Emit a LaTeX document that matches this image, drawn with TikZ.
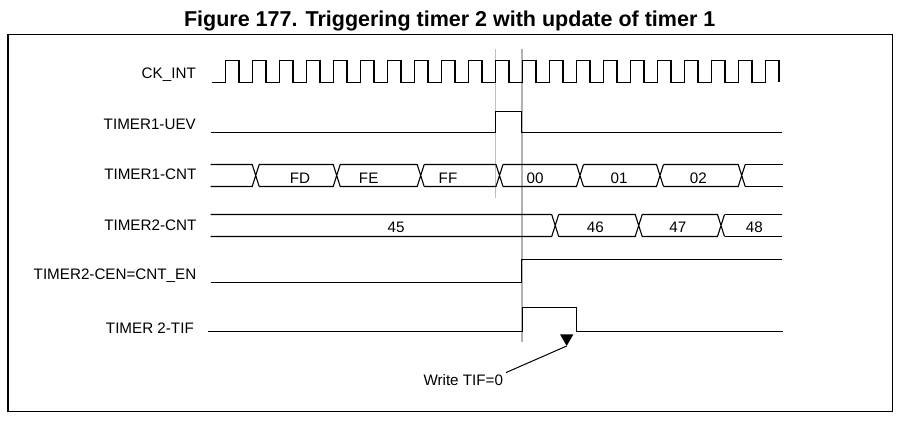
\documentclass[tikz,border=0pt]{standalone}
\usepackage{fontspec}
\setmainfont{Liberation Sans}

\begin{document}
\begin{tikzpicture}[x=1pt,y=-1pt,
    sig/.style = {black,line width=1.1pt},
    lbl/.style = {anchor=base east,inner sep=0pt,font=\fontsize{15.2}{17}\selectfont},
    val/.style = {anchor=base,inner sep=0pt,font=\fontsize{15.2}{17}\selectfont},
    guide/.style = {color=black!25,line width=1pt}]
\useasboundingbox (0,0) rectangle (916,430);
\node[anchor=base,inner sep=0pt,font=\bfseries\fontsize{21.5}{24}\selectfont] (title) at (449.7,26.7) {Figure 177. Triggering timer 2 with update of timer 1};
\draw[line width=1.2pt] (8,34.5) rectangle (892.5,411.5);
\node[lbl] (ck) at (196,78.8) {CK\_INT};
\node[lbl] (uev) at (196,129.3) {TIMER1-UEV};
\node[lbl] (cnta) at (196.5,180) {TIMER1-CNT};
\node[lbl] (cntb) at (196.5,231) {TIMER2-CNT};
\node[lbl] (cen) at (196.5,279.5) {TIMER2-CEN=CNT\_EN};
\node[lbl] (tif) at (194,333.3) {TIMER 2-TIF};
\draw[guide] (495.7,49) -- (495.7,197.7);
\draw[guide,color=black!30,line width=2pt] (521.7,49) -- (521.7,342);
\draw[sig] (211.7,82.5) \foreach \k in {0,...,20} { -- ({225.5+27*\k},82.5) -- ++(0,-22) -- ++(13.5,0) -- ++(0,22) };
\draw[sig] (211,132.5) -- (495.7,132.5) -- (495.7,111.5) -- (521.7,111.5) -- (521.7,132.5) -- (782,132.5);
\foreach \t [remember=\t as \p (initially 207.2)] in {255.7,336.7,420.7,499.5,580,660,741.7}
    \draw[sig] ({\p+3.5},164.5) -- ({\t-3.5},164.5) -- ({\t+3.5},186.5) ({\p+3.5},186.5) -- ({\t-3.5},186.5) -- ({\t+3.5},164.5);
\draw[sig] (745.2,164.5) -- (782.5,164.5) (745.2,186.5) -- (782.5,186.5);
\foreach \v/\x [count=\j from 0] in {FD/300, FE/368.7, FF/448, 00/535, 01/619, 02/698.3}
    \node[val] (a\j) at (\x,183.3) {\v};
\foreach \t [remember=\t as \p (initially 207)] in {555.2,638.7,721}
    \draw[sig] ({\p+3.5},214.5) -- ({\t-3.5},214.5) -- ({\t+3.5},236.5) ({\p+3.5},236.5) -- ({\t-3.5},236.5) -- ({\t+3.5},214.5);
\draw[sig] (724.5,214.5) -- (782,214.5) (724.5,236.5) -- (782,236.5);
\foreach \v/\x [count=\j from 0] in {45/396, 46/595.4, 47/677.8, 48/754.4}
    \node[val] (b\j) at (\x,232.7) {\v};
\draw[sig] (211,282.5) -- (521.7,282.5) -- (521.7,259.5) -- (782,259.5);
\draw[sig] (208.3,331.5) -- (522.3,331.5) -- (522.3,307.5) -- (576.7,307.5) -- (576.7,331.5) -- (783,331.5);
\node[anchor=base west,inner sep=0pt,font=\fontsize{15.2}{17}\selectfont] (wr) at (423.3,385) {Write TIF=0};
\coordinate (tip) at (566.7,346);
\draw[line width=1pt,shorten <=3pt] (wr.north east) -- (tip);
\fill (tip) -- ++(-6.7,-11.7) -- ++(13.4,0) -- cycle;
\end{tikzpicture}
\end{document}
